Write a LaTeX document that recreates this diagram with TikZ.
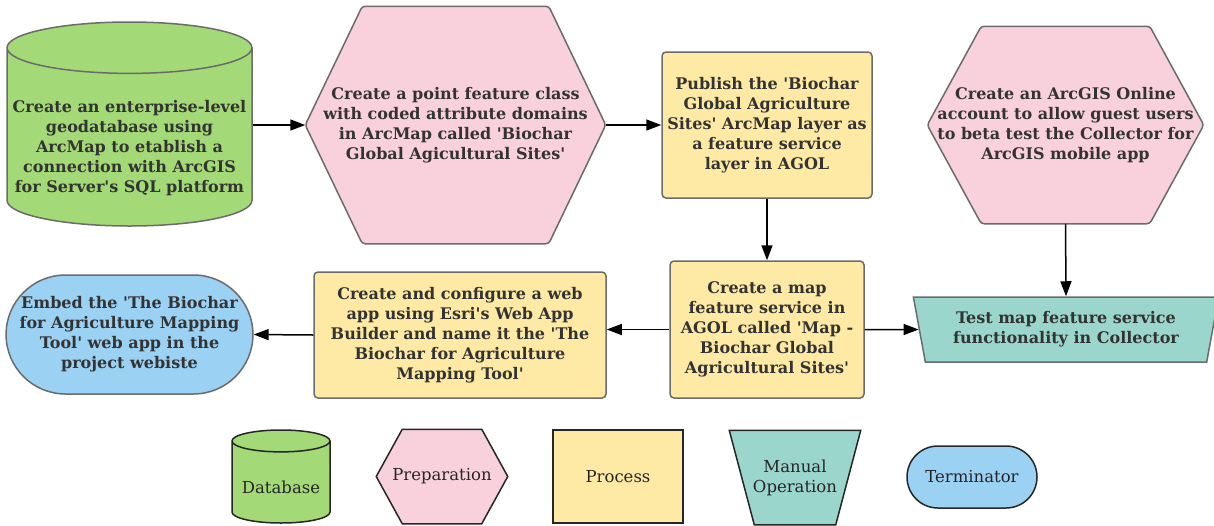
\documentclass[tikz,border=0pt]{standalone}
\usepackage{fontspec}
\setmainfont{DejaVu Serif}[Ligatures=TeXOff]
\usetikzlibrary{shapes.geometric,shapes.misc,arrows.meta,backgrounds}

\definecolor{dbgreen}{HTML}{A3D977}
\definecolor{preppink}{HTML}{F8D1DC}
\definecolor{procyellow}{HTML}{FEEAA5}
\definecolor{manteal}{HTML}{9AD6CB}
\definecolor{termblue}{HTML}{9BD1F2}
\definecolor{edgegray}{HTML}{6B6B6B}
\definecolor{txtgray}{HTML}{333333}

\tikzset{
  box/.style={draw=edgegray, line width=1.5pt, text=txtgray, align=center,
    inner sep=0pt, font=\bfseries\fontsize{16}{20}\selectfont},
  keyshape/.style={draw=black!85, line width=1.5pt, text=black!85, align=center,
    inner sep=0pt, font=\fontsize{16.5}{20}\selectfont},
  dbase/.style={cylinder, shape border rotate=90, anchor=shape center, fill=dbgreen},
  prep/.style={rectangle, draw=none},
  prepfill/.style={fill=preppink, draw=edgegray, line width=1.5pt, rounded corners=3pt},
  proc/.style={rectangle, fill=procyellow},
  manual/.style={trapezium, shape border rotate=180, trapezium stretches=true,
    trapezium left angle=75, trapezium right angle=75, fill=manteal},
  term/.style={rounded rectangle, fill=termblue},
  flow/.style={line width=1.5pt, -{Triangle[length=15pt,width=11pt]}},
}

\begin{document}
\begin{tikzpicture}[x=1pt,y=-1pt]
\useasboundingbox (0,0) rectangle (1214,525);

% flow chart
\node[box, dbase, minimum width=245pt, minimum height=204pt, aspect=0.22] (db) at (129.5,124)
  {\strut\\ Create an enterprise-level\\ geodatabase using\\ ArcMap to etablish a\\ connection with ArcGIS\\ for Server's SQL platform};
\node[box, prep, minimum width=299pt, minimum height=236pt] (fclass) at (455.5,125)
  {Create a point feature class\\ with coded attribute domains\\ in ArcMap called 'Biochar\\ Global Agicultural Sites'};
\node[box, proc, rounded corners=4pt, minimum width=210pt, minimum height=146pt] (publish) at (767,125)
  {Publish the 'Biochar\\ Global Agriculture\\ Sites' ArcMap layer as\\ a feature service\\ layer in AGOL};
\node[box, prep, minimum width=275pt, minimum height=196pt] (account) at (1065.5,125)
  {Create an ArcGIS Online\\ account to allow guest users\\ to beta test the Collector for\\ ArcGIS mobile app};
\node[box, manual, minimum width=306pt, minimum height=65pt] (test) at (1066,329.5)
  {Test map feature service\\ functionality in Collector};
\node[box, proc, rounded corners=4pt, minimum width=194pt, minimum height=137pt] (mapsvc) at (767,329.5)
  {Create a map\\ feature service in\\ AGOL called 'Map -\\ Biochar Global\\ Agricultural Sites'};
\node[box, proc, rounded corners=4pt, minimum width=292pt, minimum height=126pt] (webapp) at (460,335)
  {Create and configure a web\\ app using Esri's Web App\\ Builder and name it the 'The\\ Biochar for Agriculture\\ Mapping Tool'};
\node[box, term, minimum width=245pt, minimum height=119pt] (embed) at (129.5,334.5)
  {Embed the 'The Biochar\\ for Agriculture Mapping\\ Tool' web app in the\\ project webiste};

\draw[flow] (db.east |- fclass.west) -- (fclass.west);
\draw[flow] (fclass.east) -- (publish.west);
\draw[flow] (publish.south) -- (mapsvc.north);
\draw[flow] (account.south) -- (test.north);
\draw[flow] (mapsvc.east) -- (test.west);
\draw[flow] (mapsvc.west) -- (mapsvc.west -| webapp.east);
\draw[flow] (webapp.west) -- (embed.east);

% key
\node[keyshape, dbase, minimum width=98pt, minimum height=93pt, aspect=0.28] (kdb) at (281,476.5) {\strut\\[-12pt] Database};
\node[keyshape, prep, minimum width=130pt, minimum height=93pt] (kprep) at (442,476.5) {Preparation};
\node[keyshape, proc, minimum width=130pt, minimum height=93pt] (kproc) at (618,476.5) {Process};
\node[keyshape, prep, minimum width=130pt, minimum height=93pt] (kman) at (795,477.5) {Manual\\ Operation};
\node[keyshape, term, minimum width=130pt, minimum height=62pt] (kterm) at (972,477) {Terminator};

% hexagons and the key trapezoid behind their texts
\begin{scope}[on background layer]
  \draw[prepfill] (fclass.west) -- ([xshift=57pt]fclass.north west) -- ([xshift=-57pt]fclass.north east)
    -- (fclass.east) -- ([xshift=-57pt]fclass.south east) -- ([xshift=57pt]fclass.south west) -- cycle;
  \draw[prepfill] (account.west) -- ([xshift=54pt]account.north west) -- ([xshift=-54pt]account.north east)
    -- (account.east) -- ([xshift=-54pt]account.south east) -- ([xshift=54pt]account.south west) -- cycle;
  \draw[prepfill, draw=black!85, rounded corners=0pt] (kprep.west) -- ([xshift=26pt]kprep.north west)
    -- ([xshift=-26pt]kprep.north east) -- (kprep.east) -- ([xshift=-26pt]kprep.south east)
    -- ([xshift=26pt]kprep.south west) -- cycle;
  \draw[prepfill, fill=manteal, draw=black!85, rounded corners=0pt] (kman.north west) -- (kman.north east)
    -- ([xshift=-25pt]kman.south east) -- ([xshift=25pt]kman.south west) -- cycle;
\end{scope}

\end{tikzpicture}
\end{document}
